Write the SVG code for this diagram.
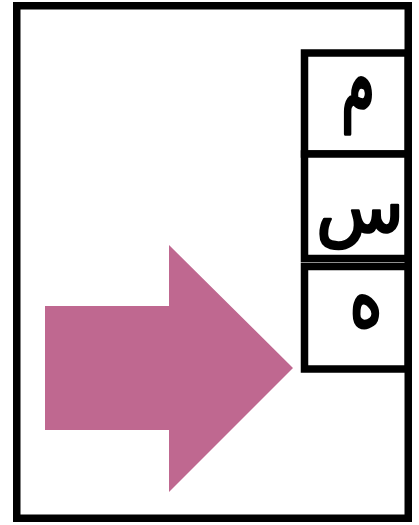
<svg xmlns="http://www.w3.org/2000/svg" width="419" height="525" viewBox="0 0 419 525">
<style>
.frame{fill:none;stroke:#000;stroke-width:7.5}
.box{fill:#fff;stroke:#000;stroke-width:7.5}
.lt{font-family:"DejaVu Sans",sans-serif;fill:#000;stroke:#000;stroke-width:2.5;stroke-linejoin:round;text-anchor:middle}
</style>
<rect width="419" height="525" fill="#fff"/>
<g id="frame"><rect class="frame" x="16.75" y="5.75" width="391.5" height="512.5"/></g>
<g id="arrow"><polygon points="45,306 169,306 169,245 293,368 169,492 169,430 45,430" fill="#BF6890"/></g>
<g id="box-meem"><rect class="box" x="304.5" y="53" width="103.5" height="101"/><text class="lt" transform="translate(358,112) scale(0.85,1.45)" x="0" y="0" font-size="64">م</text></g>
<g id="box-seen"><rect class="box" x="304.5" y="154" width="103.5" height="104.5"/><text class="lt" x="360" y="232" font-size="72">س</text></g>
<g id="box-heh"><rect class="box" x="304.5" y="266.5" width="103.5" height="102.5"/><text class="lt" transform="translate(366,326) scale(0.9,1.2)" x="0" y="0" font-size="70">ه</text></g>
</svg>
